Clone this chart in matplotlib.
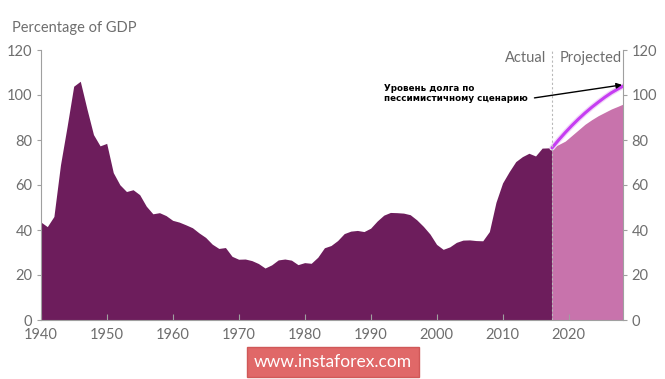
import matplotlib
matplotlib.use("Agg")
import matplotlib.pyplot as plt
import matplotlib.patheffects as pe

plt.rcParams['font.family'] = ['Lato', 'DejaVu Sans']

hist_years = list(range(1940, 2018)) + [2017.5]
hist_vals = [43.6, 41.5, 46.0, 69.0, 86.0, 103.9, 106.1, 93.9, 82.4, 77.4,
             78.5, 65.5, 60.1, 57.1, 57.9, 55.7, 50.6, 47.2, 47.7, 46.4,
             44.3, 43.5, 42.3, 41.0, 38.7, 36.7, 33.7, 31.8, 32.2, 28.3,
             27.0, 27.1, 26.4, 25.1, 23.1, 24.5, 26.7, 27.1, 26.6, 24.6,
             25.5, 25.2, 27.9, 32.1, 33.1, 35.3, 38.4, 39.5, 39.8, 39.3,
             40.8, 44.0, 46.6, 47.8, 47.7, 47.5, 46.8, 44.5, 41.6, 38.2,
             33.6, 31.4, 32.5, 34.5, 35.5, 35.6, 35.3, 35.2, 39.3, 52.3,
             60.9, 65.9, 70.4, 72.6, 74.1, 72.9, 76.4, 76.5, 76.5]

split_year = 2017.5
proj_years = [2017.5, 2018.5, 2019.5, 2020.5, 2021.5, 2022.5, 2023.5,
              2024.5, 2025.5, 2026.5, 2027.5, 2028.3]
proj_vals = [76.5, 78.0, 79.5, 82.0, 84.5, 87.0, 89.0, 90.8, 92.3, 93.8, 95.0, 96.0]
pess_vals = [76.5, 80.0, 83.3, 86.4, 89.3, 92.0, 94.5, 96.8, 99.0, 101.0, 102.7, 104.0]

x_ticks = [1940, 1950, 1960, 1970, 1980, 1990, 2000, 2010, 2020]
y_ticks = [0, 20, 40, 60, 80, 100, 120]

dark = '#6d1d5c'
pink = '#c873ac'
line_col = '#c63df2'
grey = '#6e6e6e'
spine_col = '#a0a0a0'

fig = plt.figure(figsize=(6.65, 3.79), dpi=100)
ax = fig.add_axes([40.7/665, 1-320/379, (623.3-40.7)/665, (320-50)/379])

ax.fill_between(hist_years, hist_vals, 0, color=dark, linewidth=0)
ax.fill_between(proj_years, proj_vals, 0, color=pink, linewidth=0)
ax.plot(proj_years, pess_vals, color=line_col, linewidth=2.2,
        path_effects=[pe.Stroke(linewidth=4, foreground='#f1d6f7'), pe.Normal()],
        solid_capstyle='round')

ax.axvline(split_year, color='#b8b8b8', linestyle=(0, (2, 2)), linewidth=0.8)

ax.set_xlim(1940, 2028.3)
ax.set_ylim(0, 120)
ax.set_xticks(x_ticks)
ax.set_yticks(y_ticks)
ax.spines['top'].set_visible(False)
for s in ['left', 'right', 'bottom']:
    ax.spines[s].set_color(spine_col)
    ax.spines[s].set_linewidth(0.8)
ax.tick_params(axis='x', direction='in', length=4, color=spine_col, labelsize=10.5,
               labelcolor=grey, pad=6)
ax.tick_params(axis='y', direction='out', length=3, color=spine_col, labelsize=10.5,
               labelcolor=grey, left=True, right=True, labelleft=True, labelright=True, pad=3)

fig.text(12/665, 1-28/379, 'Percentage of GDP', fontsize=10.5, color=grey,
         ha='left', va='center')
ax.text(2016.6, 116.5, 'Actual', fontsize=10.5, color=grey, ha='right', va='center')
ax.text(2018.6, 116.5, 'Projected', fontsize=10.5, color=grey, ha='left', va='center')

ax.annotate('Уровень долга по\nпессимистичному сценарию',
            xy=(2028.1, 104.5), xytext=(1992.0, 100.8),
            fontsize=6.3, fontweight='bold', color='black', ha='left', va='center',
            family=['DejaVu Sans'], linespacing=1.15,
            arrowprops=dict(arrowstyle='-|>', color='black', lw=1.0,
                            mutation_scale=8, shrinkA=3, shrinkB=0,
                            relpos=(1.0, 0.2)))

fig.text(333/665, 1-362/379, 'www.instaforex.com', fontsize=12.5, color='white',
         ha='center', va='center',
         bbox=dict(boxstyle='square,pad=0.42', facecolor='#e06868', edgecolor='#d05858'))

fig.savefig('out.png', dpi=100)
